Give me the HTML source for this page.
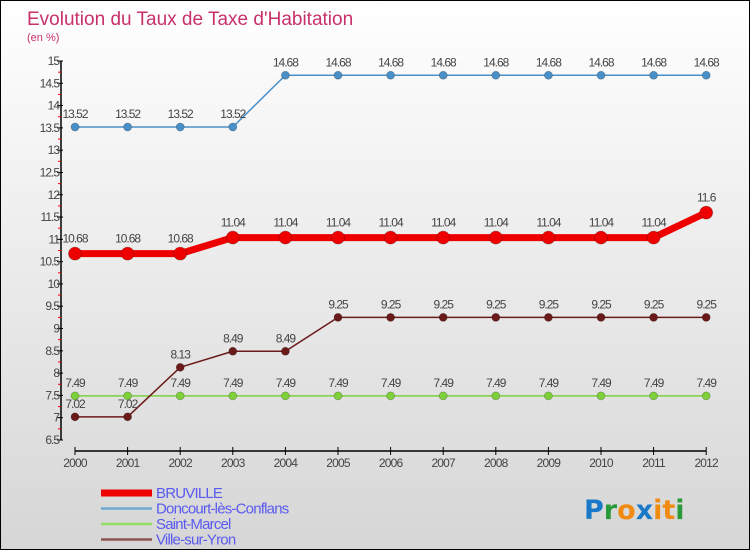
<!DOCTYPE html>
<html><head><meta charset="utf-8"><style>
body{margin:0;}
#wrap{position:relative;width:748px;height:548px;border:1px solid #000;background:linear-gradient(#fff,#d6d6d6);font-family:"Liberation Sans",sans-serif;overflow:hidden}
svg{position:absolute;left:0;top:0}
</style></head><body>
<div id="wrap">
<svg id="c" width="748" height="548">
<text x="26" y="24" font-size="19" fill="#c8306a">Evolution du Taux de Taxe d'Habitation</text>
<text x="26" y="40" font-size="11" fill="#c8306a">(en %)</text>
</svg>
</div>
<script>
const years=[2000,2001,2002,2003,2004,2005,2006,2007,2008,2009,2010,2011,2012];
const bruville=[10.68,10.68,10.68,11.04,11.04,11.04,11.04,11.04,11.04,11.04,11.04,11.04,11.6];
const doncourt=[13.52,13.52,13.52,13.52,14.68,14.68,14.68,14.68,14.68,14.68,14.68,14.68,14.68];
const saintMarcel=[7.49,7.49,7.49,7.49,7.49,7.49,7.49,7.49,7.49,7.49,7.49,7.49,7.49];
const villeSurYron=[7.02,7.02,8.13,8.49,8.49,9.25,9.25,9.25,9.25,9.25,9.25,9.25,9.25];
const yTicks=[6.5,7,7.5,8,8.5,9,9.5,10,10.5,11,11.5,12,12.5,13,13.5,14,14.5,15];
const NS='http://www.w3.org/2000/svg';
const svg=document.getElementById('c');
const yMin=6.5,yMax=15,yTop=60,yBot=439;
const X=i=>74+i*52.6;
const Y=v=>yBot-(v-yMin)/(yMax-yMin)*(yBot-yTop);
function mk(t,a,p){const e=document.createElementNS(NS,t);for(const k in a)e.setAttribute(k,a[k]);(p||svg).appendChild(e);return e;}
let ax=mk('line',{x1:60,y1:Y(15),x2:60,y2:Y(6.5),stroke:'#000','stroke-width':1.5});


yTicks.forEach(v=>{
 mk('line',{x1:56,y1:Y(v),x2:62,y2:Y(v),stroke:'#000'});
 if(v<15){mk('line',{x1:57,y1:Y(v+0.25),x2:60,y2:Y(v+0.25),stroke:'#e00'});}
 const t=mk('text',{x:58,y:Y(v)+4,'font-size':12,fill:'#444','text-anchor':'end','letter-spacing':'-1'});
 t.textContent=String(v);
 
 
});
let xa=mk('line',{x1:X(0),y1:450,x2:X(12),y2:450,stroke:'#000','stroke-width':1.5});


years.forEach((yr,i)=>{
 mk('line',{x1:X(i),y1:446,x2:X(i),y2:454,stroke:'#000'});
 const t=mk('text',{x:X(i),y:466,'font-size':12,fill:'#444','text-anchor':'middle','letter-spacing':'-0.8'});
 t.textContent=yr;
 
 
});
function series(vals,color,w,r,name,labelDy){
 const g=mk('g',{});
 
 
 mk('polyline',{points:vals.map((v,i)=>X(i)+','+Y(v)).join(' '),fill:'none',stroke:color,'stroke-width':w},g);
 vals.forEach((v,i)=>{
  const c=mk('circle',{cx:X(i),cy:Y(v),r:r,fill:color,stroke:'rgba(0,0,0,0.25)','stroke-width':0.8},g);
  
  
  const t=mk('text',{x:X(i),y:Y(v)+labelDy,'font-size':12,fill:'#444','text-anchor':'middle','letter-spacing':'-1'},g);
  t.textContent=String(v);
  
  
 });
}
series(saintMarcel,'#7ed03a',1.5,4,'saint-marcel-series',-9);
series(villeSurYron,'#6b1a1a',1.5,4,'ville-sur-yron-series',-9);
series(doncourt,'#4a90c8',1.5,4,'doncourt-series',-9);
series(bruville,'#ee0000',7,6.5,'bruville-series',-11);
const legNames=['BRUVILLE','Doncourt-lès-Conflans','Saint-Marcel','Ville-sur-Yron'];
const legColors=['#ee0000','#6fa8d0','#90dd60','#8b5555'];
const legW=[7,2.5,2.5,2.5];
legNames.forEach((n,i)=>{
 const y=492+i*15.5;
 const g=mk('g',{});
 
 
 mk('line',{x1:100,y1:y,x2:151,y2:y,stroke:legColors[i],'stroke-width':legW[i]},g);
 const t=mk('text',{x:155,y:y+5,'font-size':15,fill:'#5a5af0','letter-spacing':'-0.8'},g);
 t.textContent=n;
});
const logo=mk('text',{x:583,y:518,'font-size':27,'font-weight':'bold','font-family':'DejaVu Sans, sans-serif'});


[['P','#1a78c8'],['r','#2a9a3a'],['o','#f08a10'],['x','#1a78c8'],['i','#f08a10'],['t','#f08a10'],['i','#2a9a3a']].forEach(([c,f])=>{const s=mk('tspan',{fill:f},logo);s.textContent=c;});
</script>
</body></html>
